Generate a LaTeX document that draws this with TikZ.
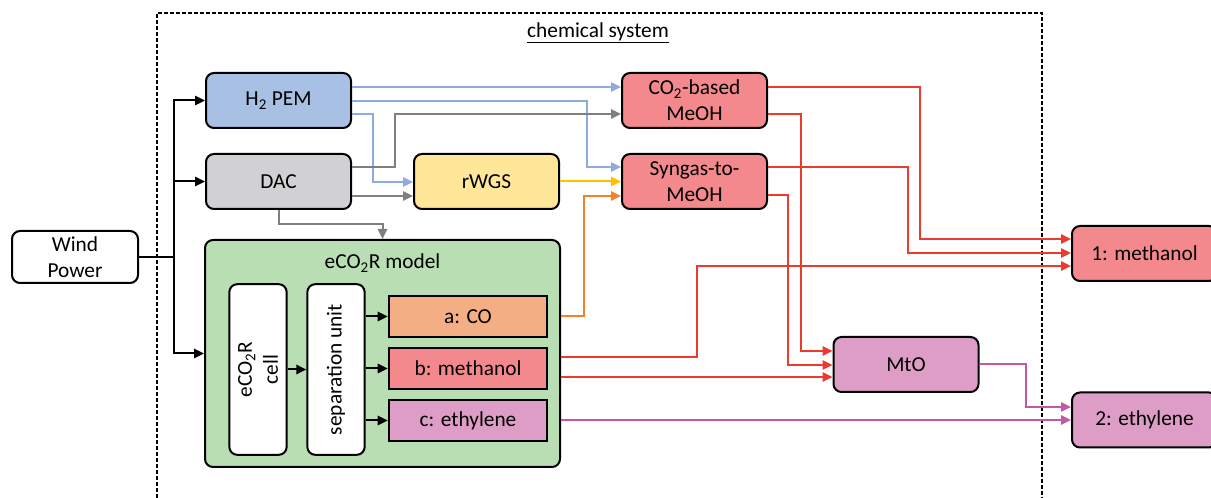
\documentclass[tikz,border=0pt]{standalone}
\usepackage{fontspec}
\setmainfont{Carlito}
\usetikzlibrary{arrows.meta}

\definecolor{h2fill}{HTML}{A8C0E4}
\definecolor{dacfill}{HTML}{D1D1D3}
\definecolor{rwgsfill}{HTML}{FFE699}
\definecolor{meohfill}{HTML}{F4898D}
\definecolor{modelfill}{HTML}{BADEB4}
\definecolor{cofill}{HTML}{F4AE84}
\definecolor{ethfill}{HTML}{DE9DC7}
\definecolor{h2line}{HTML}{8FAADC}
\definecolor{dacline}{HTML}{7F7F7F}
\definecolor{rwgsline}{HTML}{FFC000}
\definecolor{coline}{HTML}{F5822A}
\definecolor{meohline}{HTML}{ED3A2E}
\definecolor{ethline}{HTML}{C656A8}

\begin{document}
\begin{tikzpicture}[x=0.75pt,y=-0.75pt,>={Triangle[length=7.5pt,width=7pt]},
    node distance=60.75pt,
    font=\fontsize{16}{19.5}\selectfont,
    box/.style={draw,line width=1.5pt,rounded corners=6pt,minimum width=108.75pt,minimum height=41.25pt,align=center},
    prod/.style={draw,line width=1.5pt,minimum width=119pt,minimum height=30.75pt},
    inner/.style={draw,line width=1.5pt,rounded corners=6pt,fill=white,rotate=90,minimum width=128pt,minimum height=43pt,align=center},
    flow/.style={->,line width=1.5pt}]
    \useasboundingbox (0,0) rectangle (1211,498);

    \draw[line width=1pt,dash pattern=on 3pt off 1.5pt] (157,498) |- (1042,13) -- (1042,498);
    \node (systitle) at (598,33) {\underline{chemical system}};

    \node[box, minimum width=94.5pt, minimum height=39pt] (wind) at (75,257) {Wind\\Power};
    \node[box, fill=h2fill] (h2pem) at (278.5,100.5) {H\textsubscript{2} PEM};
    \node[box, fill=dacfill] (dac) [below of=h2pem] {DAC};
    \node[box, fill=rwgsfill] (rwgs) [right of=dac, node distance=156pt] {rWGS};
    \node[box, fill=meohfill] (syngas) [right of=rwgs, node distance=156pt] {Syngas-to-\\MeOH};
    \node[box, fill=meohfill] (co2meoh) [above of=syngas] {CO\textsubscript{2}-based\\MeOH};
    \node[box, fill=ethfill] (mto) at (906,364.5) {MtO};
    \node[box, fill=meohfill] (meoh1) at (1144.5,253.5) {1: methanol};
    \node[box, fill=ethfill] (eth2) at (1144.5,420) {2: ethylene};

    \node[box, fill=modelfill, minimum width=266.25pt, minimum height=170.25pt] (eco2r) at (382.5,353.5) {};
    \node (eco2rtitle) at (382.5,263) {eCO\textsubscript{2}R model};
    \node[inner] (cell) at (258,369.5) {eCO\textsubscript{2}R\\cell};
    \node[inner] (sep) at (336,369.5) {separation unit};
    \node[prod, fill=cofill] (prodco) at (468,316.5) {a: CO};
    \node[prod, fill=meohfill] (prodmeoh) [below of=prodco, node distance=39pt] {b: methanol};
    \node[prod, fill=ethfill] (prodeth) [below of=prodmeoh, node distance=39pt] {c: ethylene};

    \draw[flow] (wind.east) -- (174,257) |- (h2pem);
    \draw[flow] (wind.east) -- (174,257) |- (dac);
    \draw[flow] (wind.east) -- (174,257) |- (eco2r);

    \draw[flow] (cell.south) -- (sep.north);
    \draw[flow] (sep.south |- prodco) -- (prodco);
    \draw[flow] (sep.south |- prodmeoh) -- (prodmeoh);
    \draw[flow] (sep.south |- prodeth) -- (prodeth);

    \draw[flow, h2line] (h2pem.east |- 0,87) -- (co2meoh.west |- 0,87);
    \draw[flow, h2line] (h2pem.east |- 0,101) -| (587,167) -- (syngas.west |- 0,167);
    \draw[flow, h2line] (h2pem.east |- 0,114) -| (373,182) -- (rwgs.west |- 0,182);

    \draw[flow, dacline] (dac.east |- 0,167) -| (395,114) -- (co2meoh.west |- 0,114);
    \draw[flow, dacline] (dac.east |- 0,196) -- (rwgs.west |- 0,196);
    \draw[flow, dacline] (dac.south) |- (382.5,224) -- (eco2r.north);

    \draw[flow, rwgsline] (rwgs) -- (syngas);
    \draw[flow, coline] (eco2r.east |- prodco) -| (584,196) -- (syngas.west |- 0,196);

    \draw[flow, meohline] (co2meoh.east |- 0,87) -| (920,239) -- (meoh1.west |- 0,239);
    \draw[flow, meohline] (co2meoh.east |- 0,114) -| (801,351) -- (mto.west |- 0,351);
    \draw[flow, meohline] (syngas.east |- 0,167) -| (908,253) -- (meoh1.west |- 0,253);
    \draw[flow, meohline] (syngas.east |- 0,195) -| (788,365) -- (mto.west |- 0,365);
    \draw[flow, meohline] (eco2r.east |- 0,357) -| (697,266) -- (meoh1.west |- 0,266);
    \draw[flow, meohline] (eco2r.east |- 0,377) -- (mto.west |- 0,377);

    \draw[flow, ethline] (mto.east) -| (1026,407) -- (eth2.west |- 0,407);
    \draw[flow, ethline] (eco2r.east |- eth2) -- (eth2);
\end{tikzpicture}
\end{document}
